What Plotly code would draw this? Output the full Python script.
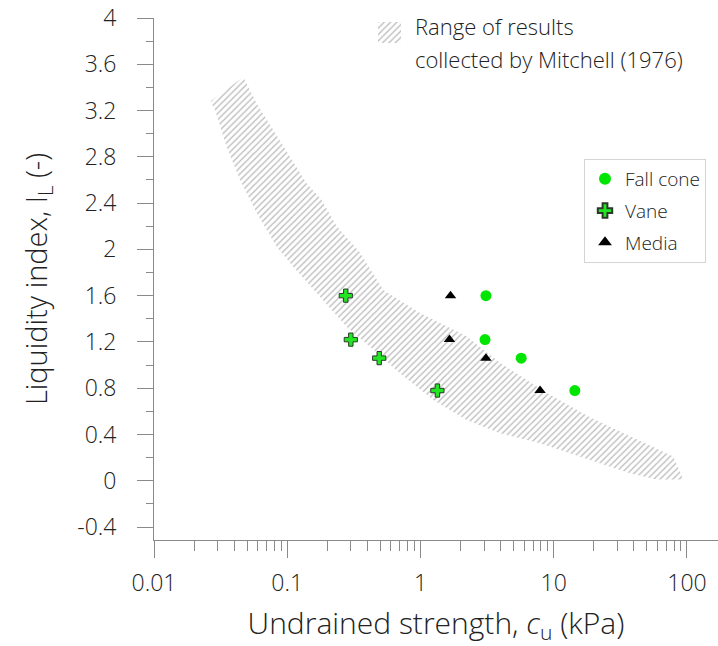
import plotly.graph_objects as go
import numpy as np

# ---- data ----
fall_cone_x = [3.1, 3.05, 5.7, 14.4]
fall_cone_y = [1.60, 1.22, 1.06, 0.78]

vane_x = [0.275, 0.30, 0.49, 1.34]
vane_y = [1.60, 1.22, 1.06, 0.78]

media_x = [1.68, 1.65, 3.1, 7.9]
media_y = [1.60, 1.22, 1.06, 0.78]

# Mitchell (1976) range polygon: upper boundary then lower boundary back
band_upper_x = [0.0266, 0.0468, 0.059, 0.0786, 0.1048, 0.140, 0.181, 0.235, 0.352, 0.526,
                0.991, 2.22, 3.95, 8.85, 18.7, 44.4, 78.9, 93.8]
band_upper_y = [3.28, 3.49, 3.26, 3.03, 2.80, 2.57, 2.43, 2.20, 1.97, 1.65,
                1.45, 1.25, 1.02, 0.76, 0.55, 0.35, 0.21, 0.01]
band_lower_x = [59.2, 37.3, 18.7, 7.88, 3.95, 2.22, 1.248, 0.701, 0.418, 0.279,
                0.176, 0.111, 0.0833, 0.059, 0.0442, 0.0351, 0.0287]
band_lower_y = [0.01, 0.065, 0.18, 0.324, 0.41, 0.526, 0.698, 0.929, 1.159, 1.332,
                1.591, 1.85, 2.023, 2.315, 2.60, 2.888, 3.205]

y_ticks = [-0.4, 0, 0.4, 0.8, 1.2, 1.6, 2, 2.4, 2.8, 3.2, 3.6, 4]
y_ticklabels = ["-0.4", "0", "0.4", "0.8", "1.2", "1.6", "2", "2.4", "2.8", "3.2", "3.6", "4"]
x_ticks = [0.01, 0.1, 1, 10, 100]
x_ticklabels = ["0.01", "0.1", "1", "10", "100"]

FONT = "Open Sans"
TXT = "#222222"
AX = "#8a8a8a"
GREEN = "#00e600"

band_x = band_upper_x + band_lower_x + [band_upper_x[0]]
band_y = band_upper_y + band_lower_y + [band_upper_y[0]]

pattern = dict(shape="/", fgcolor="#bdbdbd", bgcolor="rgba(0,0,0,0)", size=4.5, solidity=0.3,
               fillmode="replace")

fig = go.Figure()
fig.add_trace(go.Scatter(
    x=band_x, y=band_y, mode="lines", fill="toself", line=dict(width=0, color="rgba(0,0,0,0)"),
    fillcolor="rgba(0,0,0,0)", fillpattern=pattern, showlegend=False, hoverinfo="skip"))

fig.add_trace(go.Scatter(
    x=fall_cone_x, y=fall_cone_y, mode="markers", name="Fall cone", legendgroup="a",
    marker=dict(symbol="circle", size=11, color=GREEN, line=dict(width=0))))
fig.add_trace(go.Scatter(
    x=vane_x, y=vane_y, mode="markers", name="Vane", legendgroup="b",
    marker=dict(symbol="cross", size=11, color="#22e622", line=dict(width=1, color="#2a3a2a"))))
fig.add_trace(go.Scatter(
    x=media_x, y=media_y, mode="markers", name="Media", legendgroup="c",
    marker=dict(symbol="triangle-up", size=10, color="black", line=dict(width=0))))

# hatch key glyph for the Mitchell range (own small axes)
fig.add_trace(go.Scatter(
    x=[0, 1, 1, 0, 0], y=[0, 0, 1, 1, 0], xaxis="x2", yaxis="y2", mode="lines", fill="toself",
    line=dict(width=0, color="rgba(0,0,0,0)"), fillcolor="rgba(0,0,0,0)", fillpattern=pattern,
    showlegend=False, hoverinfo="skip"))

W, H = 718, 646
L, R, T, B = 154, 0, 18, 106
pw, ph = W - L - R, H - T - B

def px(xp):
    return (xp - L) / pw

def py(yp):
    return (H - B - yp) / ph

minor_x = [m * 10.0 ** e for e in range(-2, 3) for m in range(2, 10)]

fig.update_layout(
    width=W, height=H, margin=dict(l=L, r=R, t=T, b=B),
    paper_bgcolor="white", plot_bgcolor="white",
    font=dict(family=FONT, color=TXT, weight=300),
    xaxis=dict(
        type="log", range=[-2, 2.233], showgrid=False, zeroline=False,
        showline=True, linecolor=AX, linewidth=1,
        ticks="outside", ticklen=17, tickcolor=AX, tickwidth=1,
        tickmode="array", tickvals=x_ticks, ticktext=x_ticklabels,
        tickfont=dict(size=23, family=FONT, color=TXT, weight=300),
        ticklabelstandoff=5,
        minor=dict(ticks="outside", ticklen=10, tickcolor=AX, tickwidth=1,
                   tickmode="array", tickvals=minor_x, showgrid=False),
        title=dict(text="Undrained strength, <i>c</i><sub>u</sub> (kPa)",
                   font=dict(size=30, family=FONT, color=TXT, weight=300), standoff=18),
    ),
    yaxis=dict(
        range=[-0.512, 4.0], showgrid=False, zeroline=False,
        showline=True, linecolor=AX, linewidth=1,
        ticks="outside", ticklen=16, tickcolor=AX, tickwidth=1,
        tickmode="array", tickvals=y_ticks, ticktext=y_ticklabels,
        tickfont=dict(size=23, family=FONT, color=TXT, weight=300),
        ticklabelstandoff=16,
        minor=dict(ticks="outside", ticklen=7, tickcolor=AX, tickwidth=1, dtick=0.2, showgrid=False),
        title=dict(text="Liquidity index, I<sub>L</sub> (-)",
                   font=dict(size=29, family=FONT, color=TXT, weight=300), standoff=21),
    ),
    xaxis2=dict(domain=[px(378), px(401)], range=[0, 1], anchor="y2", visible=False,
                fixedrange=True),
    yaxis2=dict(domain=[py(43), py(22)], range=[0, 1], anchor="x2", visible=False,
                fixedrange=True),
    legend=dict(
        x=px(584), y=py(159), xanchor="left", yanchor="top",
        bgcolor="white", bordercolor="#d4d4d4", borderwidth=1,
        font=dict(size=19, family=FONT, color=TXT, weight=300),
        tracegroupgap=4, itemsizing="constant",
    ),
    annotations=[
        dict(text="Range of results", xref="paper", yref="paper", x=px(413), y=py(26),
             xanchor="left", yanchor="middle", showarrow=False,
             font=dict(size=22, family=FONT, color=TXT, weight=300)),
        dict(text="collected by Mitchell (1976)", xref="paper", yref="paper", x=px(413), y=py(59),
             xanchor="left", yanchor="middle", showarrow=False,
             font=dict(size=22, family=FONT, color=TXT, weight=300)),
    ],
)

fig.write_html("out.html")
